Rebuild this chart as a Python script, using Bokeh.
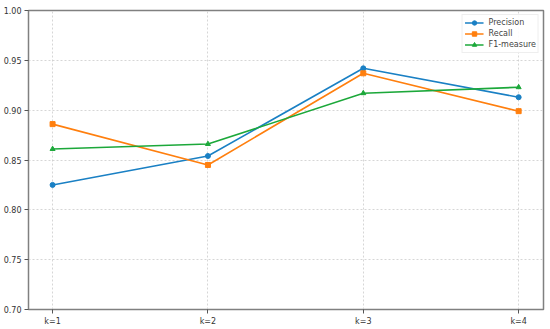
from bokeh.plotting import figure
from bokeh.embed import file_html
from bokeh.resources import INLINE
from bokeh.models import FixedTicker, Range1d, Legend, LegendItem

k_values = [1, 2, 3, 4]
k_labels = ["k=1", "k=2", "k=3", "k=4"]
precision = [0.825, 0.854, 0.942, 0.913]
recall = [0.886, 0.845, 0.937, 0.899]
f1_measure = [0.861, 0.866, 0.917, 0.923]
y_ticks = [0.70, 0.75, 0.80, 0.85, 0.90, 0.95, 1.00]

p = figure(frame_width=515, frame_height=299, output_backend="svg", toolbar_location=None,
           x_range=Range1d(0.845, 4.16), y_range=Range1d(0.70, 1.00),
           min_border_left=4, min_border_top=10, min_border_right=2, min_border_bottom=2)

FONT = "DejaVu Sans"
for ax in (p.xaxis, p.yaxis):
    ax.axis_line_color = "#808080"
    ax.major_tick_line_color = "#555555"
    ax.minor_tick_line_color = None
    ax.major_tick_out = 4
    ax.major_tick_in = 0
    ax.major_label_text_font = FONT
    ax.major_label_text_font_size = "8px"
    ax.major_label_text_color = "#333333"
    ax.major_label_standoff = 3

p.xaxis.ticker = FixedTicker(ticks=k_values)
p.xaxis.major_label_overrides = {k: lab for k, lab in zip(k_values, k_labels)}
p.yaxis.ticker = FixedTicker(ticks=y_ticks)
p.yaxis.major_label_overrides = {t: f"{t:.2f}" for t in y_ticks}

p.outline_line_color = "#808080"
p.outline_line_width = 1.5
p.grid.grid_line_color = "#cccccc"
p.grid.grid_line_dash = "2 2"
p.grid.grid_line_width = 0.8

series = [
    ("Precision", precision, "#1a80c4", "circle"),
    ("Recall", recall, "#ff7f0e", "square"),
    ("F1-measure", f1_measure, "#1ca83a", "triangle"),
]
items = []
for name, vals, color, marker in series:
    l = p.line(k_values, vals, line_color=color, line_width=1.6)
    s = p.scatter(k_values, vals, marker=marker, size=5, fill_color=color, line_color=color)
    items.append(LegendItem(label=name, renderers=[l, s]))

legend = Legend(items=items, location="top_right")
legend.label_text_font = FONT
legend.label_text_font_size = "8px"
legend.label_height = 11
legend.glyph_height = 11
legend.glyph_width = 19
legend.label_standoff = 5
legend.spacing = 0
legend.padding = 2
legend.margin = 4
legend.border_line_color = "#dddddd"
legend.background_fill_alpha = 0.9
p.add_layout(legend)

open("out.html", "w").write(file_html(p, INLINE))
